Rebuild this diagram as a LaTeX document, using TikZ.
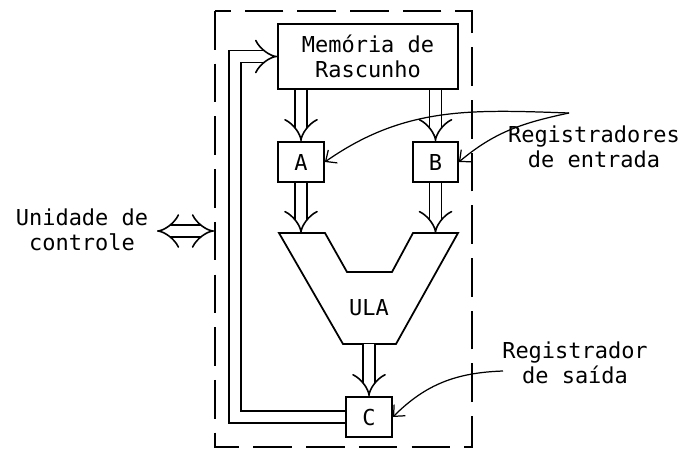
\documentclass[tikz,border=0pt]{standalone}
\usepackage{fontspec}
\setmonofont{DejaVu Sans Mono}
\usetikzlibrary{arrows.meta}
\tikzset{
  bloco/.style={draw, line width=1pt, inner sep=0pt, align=center},
  bus/.style={double, double distance=6pt, line width=0.9pt, -{Implies[length=7pt,width=15pt]}},
  seta/.style={line width=0.7pt, -{Straight Barb[length=5pt,width=9pt]}},
  rotulo/.style={align=center, font=\ttfamily\fontsize{12.5}{14}\selectfont}
}
\begin{document}
\begin{tikzpicture}[x=0.02cm, y=-0.02cm]
  \useasboundingbox (0,0) rectangle (689,450);

  % Contorno tracejado
  \draw[line width=1pt, dash pattern=on 22pt off 8pt] (215,11) rectangle (472,447);

  % Blocos
  \node[bloco, rotulo, minimum width=3.6cm, minimum height=1.3cm] (mem) at (368,56.5) {Memória de\\Rascunho};
  \node[bloco, rotulo, minimum width=0.92cm, minimum height=0.8cm] (A) at (301,162) {A};
  \node[bloco, rotulo, minimum width=0.9cm, minimum height=0.8cm] (B) at (435.5,162) {B};
  \node[bloco, rotulo, minimum width=0.92cm, minimum height=0.8cm] (C) at (369,417) {C};

  % ULA
  \draw[line width=1pt] (279,233) -- (325,233) -- (347,272) -- (392,272) -- (413,233)
    -- (458,233) -- (396,344) -- (343,344) -- cycle;
  \node[rotulo] (ula) at (369,308) {ULA};
  \coordinate (ulaA) at (301,233);
  \coordinate (ulaB) at (435.5,233);
  \coordinate (ulaS) at (369,344);

  % Barramentos
  \draw[bus] (mem.south -| A) -- (A.north);
  \draw[bus] (mem.south -| B) -- (B.north);
  \draw[bus] (A.south) -- (ulaA);
  \draw[bus] (B.south) -- (ulaB);
  \draw[bus] (ulaS) -- (C.north);

  % Realimentacao
  \coordinate (fb) at (235,56.5);
  \draw[bus] (C.west) -| (fb) -- (mem.west);

  % Unidade de controle
  \node[rotulo] (uc) at (82,230) {Unidade de\\controle};
  \coordinate (ucL) at (157,231);
  \coordinate (ucR) at (214,231);
  \draw[bus, {Implies[length=7pt,width=15pt]}-{Implies[length=7pt,width=15pt]}] (ucL) -- (ucR);

  % Registradores de entrada
  \node[rotulo] (entrada) at (594,147) {Registradores\\de entrada};
  \coordinate (e0) at (569,113);
  \draw[seta] (e0) to[out=178, in=35] (A.east);
  \draw[seta] (e0) to[out=192, in=40] (B.east);

  % Registrador de saida
  \node[rotulo] (saida) at (575,363) {Registrador\\de saída};
  \coordinate (s0) at (503,371);
  \draw[seta] (s0) to[out=182, in=45] (C.east);
\end{tikzpicture}
\end{document}
